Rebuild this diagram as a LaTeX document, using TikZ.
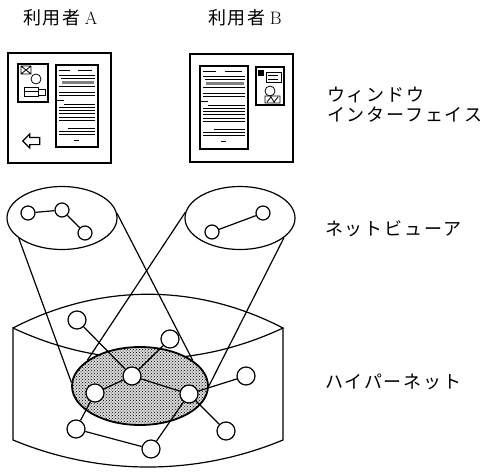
\documentclass[tikz,border=0pt]{standalone}
\usepackage{fontspec}
\newfontfamily\jp[LetterSpace=10]{Noto Sans CJK JP}
\usetikzlibrary{shapes.geometric,shapes.arrows,patterns}

\tikzset{
  caption/.style={font=\fontsize{18}{20}\selectfont\jp, anchor=west, inner sep=0pt},
  winbox/.style={draw, line width=1.2pt, inner sep=0pt},
  viewer/.style={draw, ellipse, line width=1.2pt, minimum width=110pt, minimum height=63pt, inner sep=0pt},
  vertex/.style={draw, circle, fill=white, line width=1.2pt, minimum size=18pt, inner sep=0pt},
  smallvertex/.style={draw, circle, fill=white, line width=1.2pt, minimum size=14pt, inner sep=0pt},
  textline/.style={line width=0.8pt},
  wire/.style={line width=1.2pt}
}

\begin{document}
\begin{tikzpicture}[x=1pt,y=-1pt]
    \useasboundingbox (0,0) rectangle (490,474);

    \node[caption] (userA) at (23,18) {利用者\hspace{4pt}{\rmfamily A}};
    \node[caption] (userB) at (208,18) {利用者\hspace{4pt}{\rmfamily B}};
    \node[caption, align=left] (wintxt) at (327,105) {ウィンドウ\\インターフェイス};
    \node[caption] (nvtxt) at (325,229) {ネットビューア};
    \node[caption] (hntxt) at (325,382) {ハイパーネット};

    % windows
    \node[winbox, minimum width=103pt, minimum height=110pt] (winA) at (59.5,108) {};
    \node[winbox, minimum width=103pt, minimum height=108pt] (winB) at (241.5,108) {};
    \node[single arrow, draw, line width=1.2pt, shape border rotate=180, inner sep=3pt,
          minimum height=17pt, single arrow head extend=3.5pt] (back) at (33,141) {};

    \begin{scope}[shift={(56,65)}]
        \draw[line width=1.2pt] (0,0) rectangle (42,82);
        \fill[gray] (6,16) rectangle (38,18.5);
        \foreach \y/\a/\b in {5/3/14, 5/22/36, 10/3/39, 13/5/39, 21/3/39, 27/3/39, 30/3/39,
                              35/1/8, 39/8/39, 42/3/39, 45/3/39, 48/3/39, 52/3/39, 55/3/39,
                              63/12/39, 66/3/39, 69/3/39, 75/18/23}
            \draw[textline] (\a,\y) -- (\b,\y);
    \end{scope}
    \begin{scope}[shift={(18,64)}]
        \draw[line width=1.2pt] (0,0) rectangle (30,38);
        \draw[textline] (3,2) rectangle (13,10) (3,2) -- (13,10) (3,10) -- (13,2);
        \draw[textline] (18,15) circle (5);
        \draw[textline] (6,23) rectangle (20,32) (6,27) -- (20,27);
        \draw[textline] (20,25) rectangle (27,31);
    \end{scope}

    \begin{scope}[shift={(200,66)}]
        \draw[line width=1.2pt] (0,0) rectangle (48,83);
        \fill[gray] (6,16) rectangle (44,18.5);
        \foreach \y/\a/\b in {5/3/16, 5/25/42, 10/3/45, 13/5/45, 21/3/45, 27/3/45, 30/3/45,
                              35/1/8, 39/8/45, 42/3/45, 45/3/45, 48/3/45, 52/3/45, 55/3/45,
                              63/14/45, 66/3/45, 69/3/45, 75/21/26}
            \draw[textline] (\a,\y) -- (\b,\y);
    \end{scope}
    \begin{scope}[shift={(256,67)}]
        \draw[line width=1.2pt] (0,0) rectangle (28,38);
        \fill (2,3) rectangle (8,9);
        \draw[textline] (10,5) rectangle (25,15) (12,8) -- (22,8) (12,12) -- (22,12);
        \draw[textline] (14,24) circle (5);
        \draw[textline] (9,29) rectangle (24,36) (11,35) -- (15,30) -- (18,35) -- (22,30);
    \end{scope}

    % hypernet
    \draw[wire] (13,328) .. controls (100,283) and (196,283) .. (283,328)
        .. controls (196,369) and (100,369) .. (13,328) -- (13,440)
        .. controls (100,476) and (196,476) .. (283,440) -- (283,328);
    \node[draw, ellipse, line width=1.8pt, fill=gray!30, postaction={pattern=crosshatch dots},
          minimum width=136pt, minimum height=78pt, inner sep=0pt] (hn) at (140,386) {};

    % net viewers
    \node[viewer] (vA) at (62,218) {};
    \node[viewer] (vB) at (240,218) {};
    \draw[wire] (vA.205) -- (hn.177);
    \draw[wire] (vA.5) -- (hn.26);
    \draw[wire] (vB.174) -- (hn.154);
    \draw[wire] (vB.336) -- (hn.0);

    \node[smallvertex] (a1) at (28,213) {};
    \node[smallvertex] (a2) at (62,210) {};
    \node[smallvertex] (a3) at (85,233) {};
    \node[smallvertex] (b1) at (212,232) {};
    \node[smallvertex] (b2) at (263,213) {};
    \draw[wire] (a1) -- (a2) (a2) -- (a3) (b1) -- (b2);

    \node[vertex] (h1) at (77,320) {};
    \node[vertex] (h2) at (170,339) {};
    \node[vertex] (h3) at (132,376) {};
    \node[vertex] (h4) at (95,393) {};
    \node[vertex] (h5) at (189,394) {};
    \node[vertex] (h6) at (246,376) {};
    \node[vertex] (h7) at (76,429) {};
    \node[vertex] (h8) at (151,449) {};
    \node[vertex] (h9) at (226,431) {};
    \draw[wire] (h1) -- (h3) (h2) -- (h3) (h3) -- (h4) (h3) -- (h5)
        (h5) -- (h6) (h5) -- (h9) (h4) -- (h7) (h7) -- (h8) (h8) -- (h5);
\end{tikzpicture}
\end{document}
